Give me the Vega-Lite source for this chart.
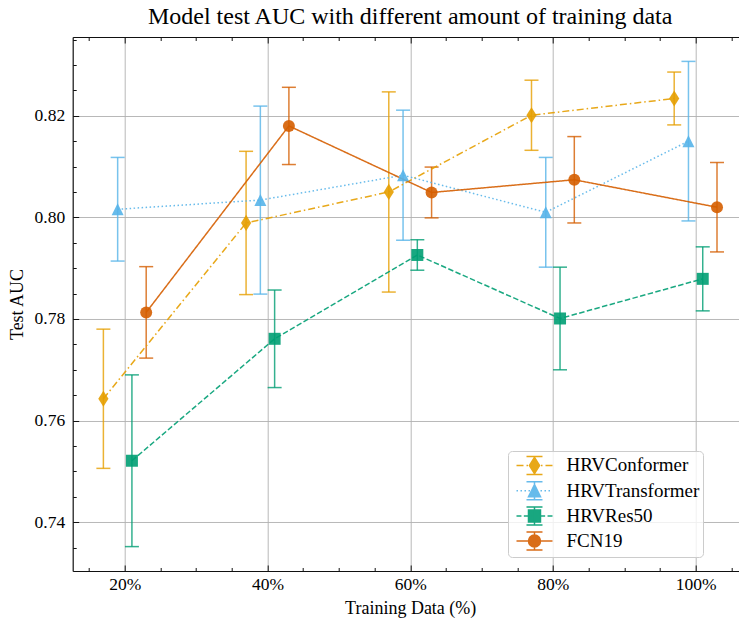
{
  "$schema": "https://vega.github.io/schema/vega-lite/v6.json",
  "width": 675,
  "height": 534,
  "autosize": "none",
  "padding": {"left": 72.7, "top": 37, "right": -9, "bottom": 47},
  "background": "white",
  "title": {
    "text": "Model test AUC with different amount of training data",
    "font": "Liberation Serif",
    "fontSize": 24,
    "fontWeight": "normal",
    "color": "black",
    "anchor": "middle",
    "offset": 8
  },
  "config": {
    "view": {"stroke": null},
    "font": "Liberation Serif",
    "axis": {
      "domain": false,
      "domainColor": "#111111",
      "domainWidth": 1.2,
      "labelFont": "Liberation Serif",
      "labelFontSize": 17.5,
      "labelColor": "black",
      "titleFont": "Liberation Serif",
      "titleFontSize": 18,
      "titleFontWeight": "normal",
      "titleColor": "black",
      "tickColor": "#111111",
      "tickWidth": 1,
      "gridColor": "#b0b0b0",
      "gridWidth": 0.9
    }
  },
  "datasets": {
    "auc": [
      {"model": "HRVConformer", "pos": 17, "auc": 0.7643, "err": 0.0137},
      {"model": "HRVConformer", "pos": 37, "auc": 0.7989, "err": 0.0141},
      {"model": "HRVConformer", "pos": 57, "auc": 0.8050, "err": 0.0197},
      {"model": "HRVConformer", "pos": 77, "auc": 0.8201, "err": 0.0069},
      {"model": "HRVConformer", "pos": 97, "auc": 0.8234, "err": 0.0052},
      {"model": "HRVTransformer", "pos": 19, "auc": 0.8016, "err": 0.0102},
      {"model": "HRVTransformer", "pos": 39, "auc": 0.8034, "err": 0.0185},
      {"model": "HRVTransformer", "pos": 59, "auc": 0.8083, "err": 0.0128},
      {"model": "HRVTransformer", "pos": 79, "auc": 0.8010, "err": 0.0108},
      {"model": "HRVTransformer", "pos": 99, "auc": 0.8150, "err": 0.0157},
      {"model": "HRVRes50", "pos": 21, "auc": 0.7521, "err": 0.0169},
      {"model": "HRVRes50", "pos": 41, "auc": 0.7761, "err": 0.0096},
      {"model": "HRVRes50", "pos": 61, "auc": 0.7926, "err": 0.0030},
      {"model": "HRVRes50", "pos": 81, "auc": 0.7801, "err": 0.0101},
      {"model": "HRVRes50", "pos": 101, "auc": 0.7879, "err": 0.0063},
      {"model": "FCN19", "pos": 23, "auc": 0.7813, "err": 0.0090},
      {"model": "FCN19", "pos": 43, "auc": 0.8180, "err": 0.0076},
      {"model": "FCN19", "pos": 63, "auc": 0.8049, "err": 0.0050},
      {"model": "FCN19", "pos": 83, "auc": 0.8074, "err": 0.0085},
      {"model": "FCN19", "pos": 103, "auc": 0.8020, "err": 0.0088}
    ]
  },
  "data": {"name": "auc"},
  "layer": [
    {
      "mark": {
        "type": "errorbar",
        "rule": {"strokeWidth": 1.5, "opacity": 0.8},
        "ticks": {"size": 14, "thickness": 1.5, "opacity": 0.8}
      },
      "encoding": {
        "x": {
          "field": "pos",
          "type": "quantitative",
          "scale": {"domain": [12.7, 107.3], "nice": false, "zero": false},
          "axis": {
            "orient": "bottom",
            "title": null,
            "values": [20, 40, 60, 80, 100],
            "labels": false,
            "ticks": false,
            "domain": true,
            "grid": true
          }
        },
        "y": {
          "field": "auc",
          "type": "quantitative",
          "scale": {"domain": [0.7304, 0.8355], "nice": false, "zero": false},
          "axis": {
            "orient": "left",
            "title": null,
            "values": [0.74, 0.76, 0.78, 0.8, 0.82],
            "labels": false,
            "ticks": false,
            "domain": true,
            "grid": true
          }
        },
        "yError": {"field": "err"},
        "color": {
          "field": "model",
          "type": "nominal",
          "scale": {
            "domain": ["FCN19", "HRVConformer", "HRVRes50", "HRVTransformer"],
            "range": ["#D55E00", "#E69F00", "#009E73", "#56B4E9"]
          },
          "legend": null
        }
      }
    },
    {
      "mark": {"type": "line", "strokeWidth": 1.5, "opacity": 0.9},
      "encoding": {
        "x": {
          "field": "pos",
          "type": "quantitative",
          "axis": {
            "orient": "bottom",
            "title": "Training Data (%)",
            "values": [20, 40, 60, 80, 100],
            "labelExpr": "datum.value + '%'",
            "grid": false,
            "offset": -6,
            "tickSize": 6,
            "labelPadding": 5,
            "titlePadding": 6
          }
        },
        "y": {
          "field": "auc",
          "type": "quantitative",
          "axis": {
            "orient": "left",
            "title": "Test AUC",
            "values": [0.74, 0.76, 0.78, 0.8, 0.82],
            "format": ".2f",
            "grid": false,
            "offset": -6,
            "tickSize": 6,
            "labelPadding": 8,
            "titlePadding": 8
          }
        },
        "color": {"field": "model", "type": "nominal", "legend": null},
        "strokeDash": {
          "field": "model",
          "type": "nominal",
          "scale": {
            "domain": ["FCN19", "HRVConformer", "HRVRes50", "HRVTransformer"],
            "range": [[1, 0], [7, 3, 1.5, 3], [5.5, 2.4], [1.5, 2.5]]
          },
          "legend": null
        }
      }
    },
    {
      "transform": [{"filter": "datum.model == 'HRVConformer'"}],
      "mark": {"type": "point", "filled": true, "size": 144, "opacity": 0.9, "shape": "M0,-1.35L0.85,0L0,1.35L-0.85,0Z"},
      "encoding": {
        "x": {
          "field": "pos",
          "type": "quantitative",
          "axis": {
            "orient": "bottom",
            "title": null,
            "labels": false,
            "grid": false,
            "values": [15, 25, 30, 35, 45, 50, 55, 65, 70, 75, 85, 90, 95, 105],
            "offset": -3.5,
            "tickSize": 3.5
          }
        },
        "y": {
          "field": "auc",
          "type": "quantitative",
          "axis": {
            "orient": "left",
            "title": null,
            "labels": false,
            "grid": false,
            "values": [0.735, 0.745, 0.75, 0.755, 0.765, 0.77, 0.775, 0.785, 0.79, 0.795, 0.805, 0.81, 0.815, 0.825, 0.83, 0.835],
            "offset": -3.5,
            "tickSize": 3.5
          }
        },
        "color": {"field": "model", "type": "nominal", "legend": null}
      }
    },
    {
      "transform": [{"filter": "datum.model == 'HRVTransformer'"}],
      "mark": {"type": "point", "filled": true, "size": 144, "opacity": 0.9, "shape": "M0,-1L1,1L-1,1Z"},
      "encoding": {
        "x": {
          "field": "pos",
          "type": "quantitative",
          "axis": {
            "orient": "top",
            "title": null,
            "labels": false,
            "grid": false,
            "values": [20, 40, 60, 80, 100],
            "offset": -6,
            "tickSize": 6
          }
        },
        "y": {"field": "auc", "type": "quantitative", "axis": null},
        "color": {"field": "model", "type": "nominal", "legend": null}
      }
    },
    {
      "transform": [{"filter": "datum.model == 'HRVRes50'"}],
      "mark": {"type": "point", "filled": true, "size": 144, "opacity": 0.9, "shape": "square"},
      "encoding": {
        "x": {
          "field": "pos",
          "type": "quantitative",
          "axis": {
            "orient": "top",
            "title": null,
            "labels": false,
            "grid": false,
            "values": [15, 25, 30, 35, 45, 50, 55, 65, 70, 75, 85, 90, 95, 105],
            "offset": -3.5,
            "tickSize": 3.5
          }
        },
        "y": {"field": "auc", "type": "quantitative", "axis": null},
        "color": {"field": "model", "type": "nominal", "legend": null}
      }
    },
    {
      "transform": [{"filter": "datum.model == 'FCN19'"}],
      "mark": {"type": "point", "filled": true, "size": 144, "opacity": 0.9, "shape": "circle"},
      "encoding": {
        "x": {
          "field": "pos",
          "type": "quantitative",
          "axis": {
            "orient": "top",
            "title": null,
            "labels": false,
            "ticks": false,
            "grid": false,
            "domain": true,
            "values": [20]
          }
        },
        "y": {"field": "auc", "type": "quantitative", "axis": null},
        "color": {"field": "model", "type": "nominal", "legend": null}
      }
    },
    {
      "mark": {"type": "point", "filled": true, "opacity": 0},
      "encoding": {
        "x": {"field": "pos", "type": "quantitative", "axis": null},
        "y": {"field": "auc", "type": "quantitative", "axis": null},
        "fill": {
          "field": "model",
          "type": "nominal",
          "scale": {
            "domain": ["HRVConformer", "HRVTransformer", "HRVRes50", "FCN19"],
            "range": ["#E69F00", "#56B4E9", "#009E73", "#D55E00"]
          },
          "legend": {
            "orient": "none", "legendX": 435.3, "legendY": 414, "title": null,
            "symbolSize": 400, "symbolStrokeWidth": 1.5, "symbolOffset": 12, "symbolOpacity": 0.9,
            "labelFont": "Liberation Serif", "labelFontSize": 19, "labelColor": "black", "labelOffset": 21,
            "padding": 3.5, "rowPadding": 1.2,
            "fillColor": "rgba(255,255,255,0.8)", "strokeColor": "#cccccc", "cornerRadius": 4
          }
        },
        "stroke": {
          "field": "model",
          "type": "nominal",
          "scale": {
            "domain": ["HRVConformer", "HRVTransformer", "HRVRes50", "FCN19"],
            "range": ["#E69F00", "#56B4E9", "#009E73", "#D55E00"]
          },
          "legend": {
            "orient": "none", "legendX": 435.3, "legendY": 414, "title": null,
            "symbolSize": 400, "symbolStrokeWidth": 1.5, "symbolOffset": 12, "symbolOpacity": 0.9,
            "labelFont": "Liberation Serif", "labelFontSize": 19, "labelColor": "black", "labelOffset": 21,
            "padding": 3.5, "rowPadding": 1.2,
            "fillColor": "rgba(255,255,255,0.8)", "strokeColor": "#cccccc", "cornerRadius": 4
          }
        },
        "shape": {
          "field": "model",
          "type": "nominal",
          "scale": {
            "domain": ["HRVConformer", "HRVTransformer", "HRVRes50", "FCN19"],
            "range": [
              "M-1.8,0H-1.1M-0.8,0H-0.65M-0.35,0H0.35M0.65,0H0.8M1.1,0H1.8M0,-0.9V0.9M-0.8,-0.9H0.8M-0.8,0.9H0.8M0,-0.81L0.51,0L0,0.81L-0.51,0Z",
              "M-1.8,0H-1.65M-1.4,0H-1.25M-1,0H-0.85M-0.6,0H-0.45M-0.2,0H-0.05M0.2,0H0.35M0.6,0H0.75M1,0H1.15M1.4,0H1.55M0,-0.9V0.9M-0.8,-0.9H0.8M-0.8,0.9H0.8M0,-0.6L0.6,0.6L-0.6,0.6Z",
              "M-1.8,0H-1.305M-1.065,0H-0.515M-0.275,0H0.275M0.515,0H1.065M1.305,0H1.8M0,-0.9V0.9M-0.8,-0.9H0.8M-0.8,0.9H0.8M-0.6,-0.6H0.6V0.6H-0.6Z",
              "M-1.8,0H1.8M0,-0.9V0.9M-0.8,-0.9H0.8M-0.8,0.9H0.8M-0.6,0A0.6,0.6 0 1,0 0.6,0A0.6,0.6 0 1,0 -0.6,0Z"
            ]
          },
          "legend": {
            "orient": "none", "legendX": 435.3, "legendY": 414, "title": null,
            "symbolSize": 400, "symbolStrokeWidth": 1.5, "symbolOffset": 12, "symbolOpacity": 0.9,
            "labelFont": "Liberation Serif", "labelFontSize": 19, "labelColor": "black", "labelOffset": 21,
            "padding": 3.5, "rowPadding": 1.2,
            "fillColor": "rgba(255,255,255,0.8)", "strokeColor": "#cccccc", "cornerRadius": 4
          }
        }
      }
    }
  ],
  "resolve": {
    "axis": {"x": "independent", "y": "independent"}
  }
}
